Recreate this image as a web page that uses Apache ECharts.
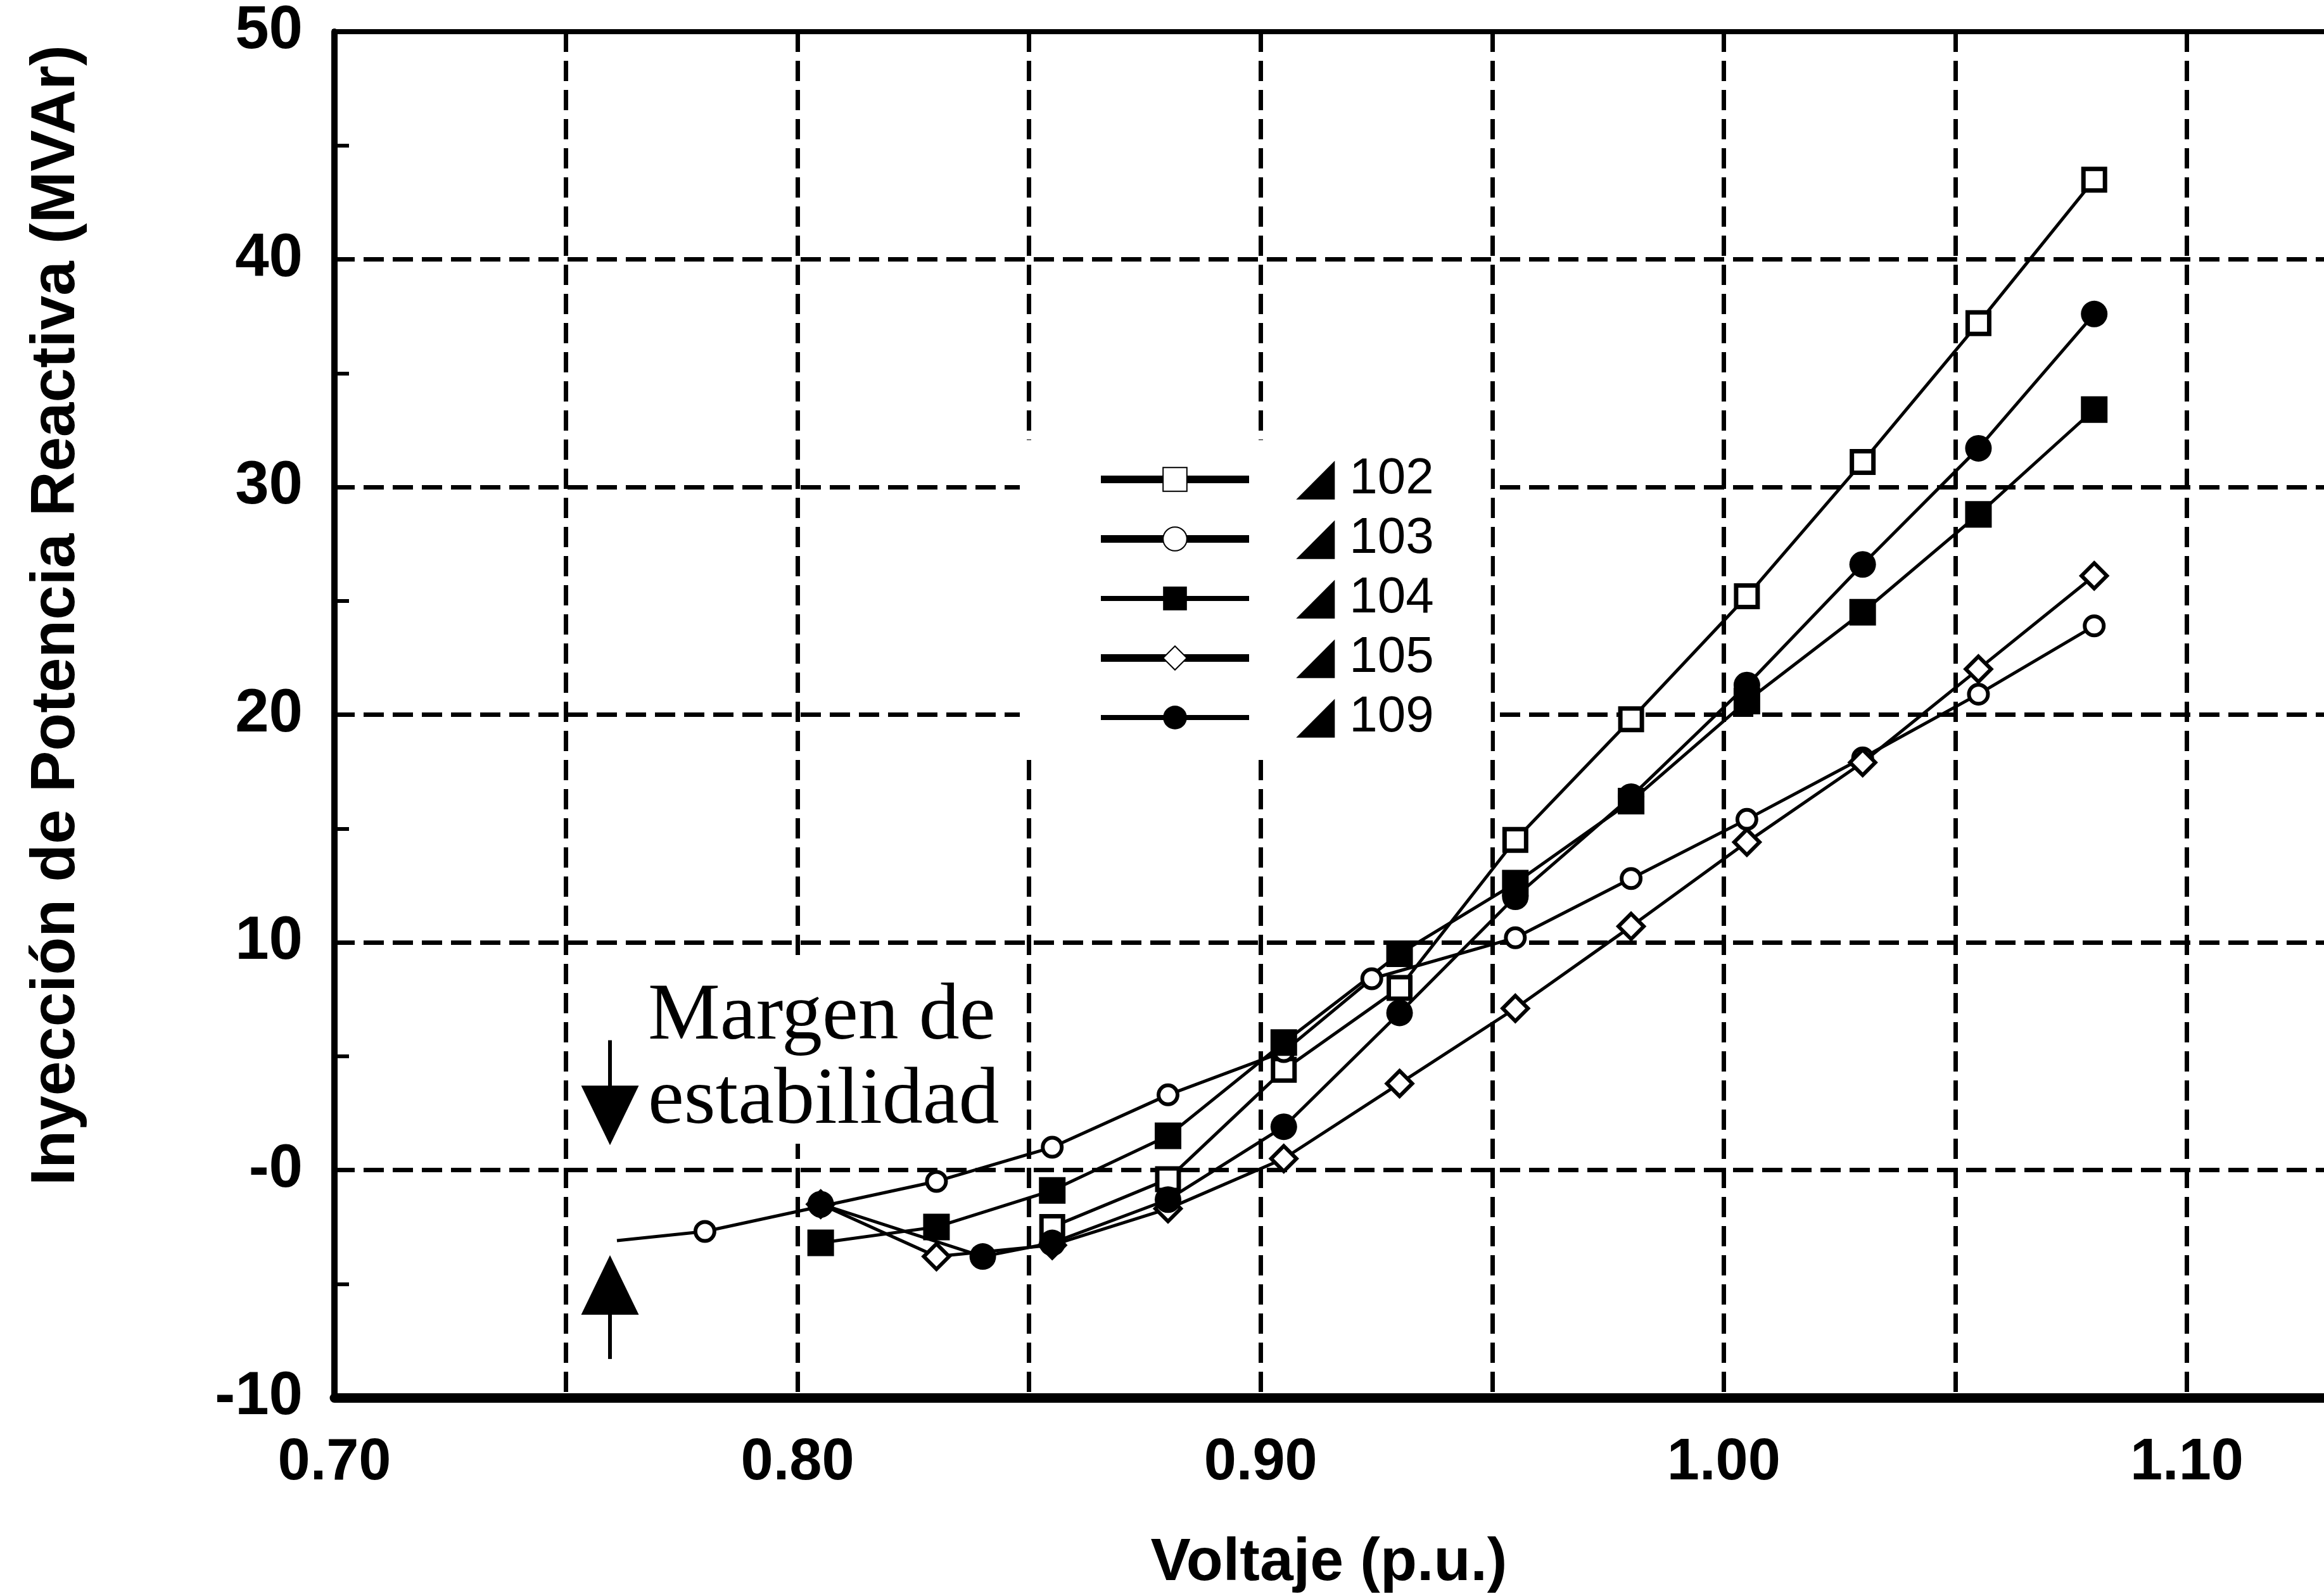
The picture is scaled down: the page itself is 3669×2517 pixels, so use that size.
<!DOCTYPE html>
<html><head><meta charset="utf-8">
<script src="https://cdn.jsdelivr.net/npm/echarts@6/dist/echarts.min.js"></script>
<style>html,body{margin:0;padding:0;background:#fff}#c{width:3669px;height:2517px}</style>
</head><body><div id="c"></div>
<script>
// ---- data ----
const seriesNames = ['102', '103', '104', '105', '109'];
const xTickValues = [0.70, 0.80, 0.90, 1.00, 1.10];
const yTickValues = [-10, 0, 10, 20, 30, 40, 50];

const x102 = [0.855, 0.88, 0.905, 0.93, 0.955, 0.98, 1.005, 1.03, 1.055, 1.08];
const y102 = [-2.5, -0.4, 4.4, 8.0, 14.5, 19.8, 25.2, 31.1, 37.2, 43.5];

const x103 = [0.761, 0.78, 0.805, 0.83, 0.855, 0.88, 0.905, 0.924, 0.955, 0.98, 1.005, 1.03, 1.055, 1.08];
const y103 = [-3.1, -2.7, -1.6, -0.5, 1.0, 3.3, 5.2, 8.4, 10.2, 12.8, 15.4, 18.1, 20.9, 23.9];

const x104 = [0.805, 0.83, 0.855, 0.88, 0.905, 0.93, 0.955, 0.98, 1.005, 1.03, 1.055, 1.08];
const y104 = [-3.2, -2.5, -0.9, 1.5, 5.6, 9.5, 12.6, 16.2, 20.6, 24.5, 28.8, 33.4];

const x105 = [0.805, 0.83, 0.855, 0.88, 0.905, 0.93, 0.955, 0.98, 1.005, 1.03, 1.055, 1.08];
const y105 = [-1.5, -3.8, -3.3, -1.7, 0.5, 3.8, 7.1, 10.7, 14.4, 17.9, 22.0, 26.1];

const x109 = [0.805, 0.84, 0.855, 0.88, 0.905, 0.93, 0.955, 0.98, 1.005, 1.03, 1.055, 1.08];
const y109 = [-1.5, -3.8, -3.2, -1.3, 1.9, 6.9, 12.0, 16.4, 21.3, 26.6, 31.7, 37.6];

// annotation (stability margin arrows), in data units
const arrowX = 0.7595;
const arrowDown = [5.7, 2.4];
const arrowUp = [-8.3, -5.05];
const noteText = 'Margen de\nestabilidad';

// ---- build ----
const FONT = "'Liberation Sans', Arial, sans-serif";
function pairs(xs, ys) { return xs.map((x, i) => [x, ys[i]]); }

const openStyle = bw => ({ color: '#fff', borderColor: '#000', borderWidth: bw });
const filledStyle = { color: '#000', borderColor: '#000', borderWidth: 0 };

const dash = { color: '#000', width: 7, type: [32, 14] };

const common = {
  type: 'line', lineStyle: { color: '#000', width: 5 }, emphasis: { disabled: true },
  animation: false, z: 3
};

const d103 = pairs(x103, y103).map((p, i) => i === 0 ? { value: p, symbol: 'none' } : p);

const series = [
  Object.assign({}, common, { name: '102', data: pairs(x102, y102), symbol: 'rect', symbolSize: 34, itemStyle: openStyle(7) }),
  Object.assign({}, common, { name: '103', data: d103, symbol: 'circle', symbolSize: 30, itemStyle: openStyle(6),
    markLine: {
      silent: true, animation: false, symbol: ['none', 'triangle'], symbolSize: [91, 94],
      label: { show: false }, lineStyle: { color: '#000', width: 6, type: 'solid' }, itemStyle: { color: '#000' },
      data: [
        [{ coord: [arrowX, arrowDown[0]] }, { coord: [arrowX, arrowDown[1]] }],
        [{ coord: [arrowX, arrowUp[0]] }, { coord: [arrowX, arrowUp[1]] }]
      ]
    } }),
  Object.assign({}, common, { name: '104', data: pairs(x104, y104), symbol: 'rect', symbolSize: 42, itemStyle: filledStyle }),
  Object.assign({}, common, { name: '105', data: pairs(x105, y105), symbol: 'diamond', symbolSize: 40, itemStyle: openStyle(6) }),
  Object.assign({}, common, { name: '109', data: pairs(x109, y109), symbol: 'circle', symbolSize: 42, itemStyle: filledStyle })
];

const legendWidths = { '102': 12, '103': 12, '104': 8, '105': 12, '109': 8 };

const chart = echarts.init(document.getElementById('c'), null, { renderer: 'canvas' });
chart.setOption({
  backgroundColor: '#fff',
  animation: false,
  grid: { left: 528, top: 50, bottom: 310, width: 3290, containLabel: false, outerBoundsMode: 'none',
          show: true, borderColor: '#000', borderWidth: 8 },
  xAxis: {
    type: 'value', min: 0.70, max: 1.15, interval: 0.1,
    axisLine: { onZero: false, lineStyle: { color: '#000', width: 15 } },
    axisTick: { show: false },
    minorTick: { show: false, splitNumber: 2 },
    splitLine: { show: true, lineStyle: dash },
    minorSplitLine: { show: true, lineStyle: dash },
    axisLabel: {
      color: '#000', fontSize: 92, fontWeight: 'bold', fontFamily: FONT, margin: 58,
      formatter: v => xTickValues.some(t => Math.abs(t - v) < 1e-6) ? v.toFixed(2) : ''
    },
    name: 'Voltaje (p.u.)', nameLocation: 'middle', nameGap: 214,
    nameTextStyle: { color: '#000', fontSize: 95, fontWeight: 'bold', fontFamily: FONT, padding: [0, 150, 0, 0] }
  },
  yAxis: {
    type: 'value', min: -10, max: 50, interval: 10,
    axisLine: { show: true, onZero: false, lineStyle: { color: '#000', width: 10 } },
    axisTick: { show: true, inside: true, length: 30, lineStyle: { color: '#000', width: 6 } },
    minorTick: { show: true, splitNumber: 2, length: 23, lineStyle: { color: '#000', width: 6 } },
    splitLine: { show: true, lineStyle: dash },
    axisLabel: {
      color: '#000', fontSize: 96, fontWeight: 'bold', fontFamily: FONT, margin: 50,
      formatter: v => yTickValues.includes(v) ? (v === 0 ? '-0' : String(v)) : ''
    },
    name: 'Inyección de Potencia Reactiva (MVAr)', nameLocation: 'middle', nameGap: 389, nameRotate: 90,
    nameTextStyle: { color: '#000', fontSize: 98, fontWeight: 'bold', fontFamily: FONT, padding: [0, 0, 0, 314] }
  },
  legend: {
    orient: 'vertical', left: 1610, top: 695, padding: [22, 90, 18, 122],
    backgroundColor: '#fff', itemWidth: 234, itemHeight: 47, itemGap: 14, selectedMode: false,
    textStyle: { fontSize: 80, fontFamily: FONT, color: '#000', padding: [0, 0, 0, 69] },
    formatter: n => '\u25E2 ' + n,
    data: seriesNames.map(n => ({ name: n, lineStyle: { width: legendWidths[n] } }))
  },
  graphic: [{
    type: 'text', left: 1018, top: 1520, z: 100,
    style: {
      text: noteText, font: '128px "Liberation Serif", "Times New Roman", serif', fill: '#000',
      lineHeight: 133, backgroundColor: '#fff', padding: [20, 12, 0, 5]
    }
  }],
  series: series
});
</script>
</body></html>
